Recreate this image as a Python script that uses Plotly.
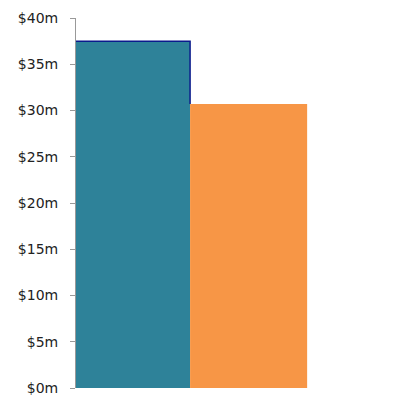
import plotly.graph_objects as go

categories = ["A", "B"]
values = [37.5, 30.7]
colors = ["#2e8299", "#f79646"]
outline_color = "#0a1a8c"
tick_vals = [0, 5, 10, 15, 20, 25, 30, 35, 40]
tick_text = ["$0m", "$5m", "$10m", "$15m", "$20m", "$25m", "$30m", "$35m", "$40m"]

fig = go.Figure()
fig.add_trace(go.Bar(
    x=[0], y=[values[0]], width=[1.0],
    marker=dict(color=colors[0], line=dict(width=0)),
    showlegend=False, hoverinfo="skip",
))
# navy outline on top and right edge of first bar
fig.add_trace(go.Scatter(
    x=[-0.5, 0.5, 0.5], y=[values[0], values[0], values[1]],
    mode="lines", line=dict(color=outline_color, width=1.5),
    showlegend=False, hoverinfo="skip",
))
fig.add_trace(go.Bar(
    x=[1.013], y=[values[1]], width=[1.026],
    marker=dict(color=colors[1], line=dict(width=0)),
    showlegend=False, hoverinfo="skip",
))

fig.update_layout(
    width=414, height=397,
    margin=dict(l=68, r=22, t=10, b=17),
    paper_bgcolor="white", plot_bgcolor="white",
    barmode="overlay",
    font=dict(family="DejaVu Sans", size=14, color="#222222"),
    xaxis=dict(range=[-0.5, 2.34], visible=False, showgrid=False, zeroline=False,
               automargin=False),
    yaxis=dict(
        range=[0, 40], tickmode="array", tickvals=tick_vals, ticktext=tick_text,
        showgrid=False, zeroline=False, automargin=False,
        showline=True, linecolor="#999999", linewidth=1,
        ticks="outside", ticklen=5, tickcolor="#999999",
        tickfont=dict(family="DejaVu Sans", size=14, color="#222222"),
        ticklabelstandoff=9,
    ),
)

fig.write_html("out.html")
